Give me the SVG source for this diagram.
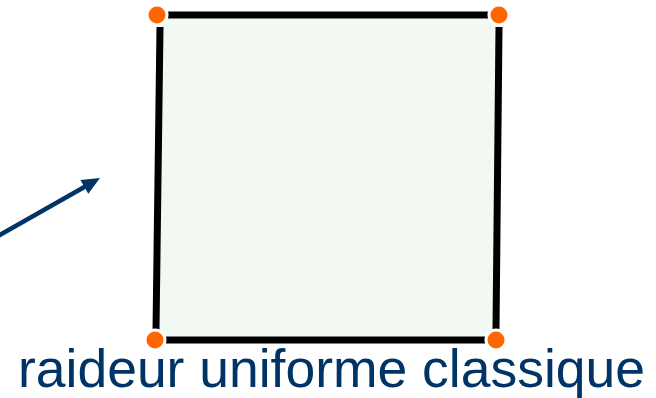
<svg xmlns="http://www.w3.org/2000/svg" width="656" height="398" viewBox="0 0 656 398">
<style>
.edge{stroke:#000;stroke-width:7;stroke-linecap:butt;fill:none}
.pt{fill:#ff6600;stroke:#fff;stroke-width:3}
.lbl{font-family:"Liberation Sans",Arial,sans-serif;font-size:54px;fill:#003366}
</style>
<g id="square">
<polygon points="160,15 499,15 496,340 156,340" fill="#f2f8f2"/>
<line class="edge" x1="168" y1="15" x2="490" y2="15"/>
<line class="edge" x1="499" y1="27" x2="496" y2="329"/>
<line class="edge" x1="486" y1="340" x2="166" y2="340"/>
<line class="edge" x1="156" y1="330" x2="160" y2="27"/>
</g>
<g id="corners">
<circle class="pt" cx="157" cy="15" r="10"/>
<circle class="pt" cx="499" cy="15" r="10"/>
<circle class="pt" cx="155" cy="340" r="10"/>
<circle class="pt" cx="496" cy="340" r="10"/>
</g>
<g id="connectors">
<line x1="-2" y1="236" x2="87" y2="185.5" stroke="#003366" stroke-width="4.5"/>
<polygon points="100,178 88.3,193.8 80.4,179.9" fill="#003366"/>
</g>
<g id="label">
<text class="lbl" x="18" y="387" textLength="627" lengthAdjust="spacingAndGlyphs">raideur uniforme classique</text>
</g>
</svg>
